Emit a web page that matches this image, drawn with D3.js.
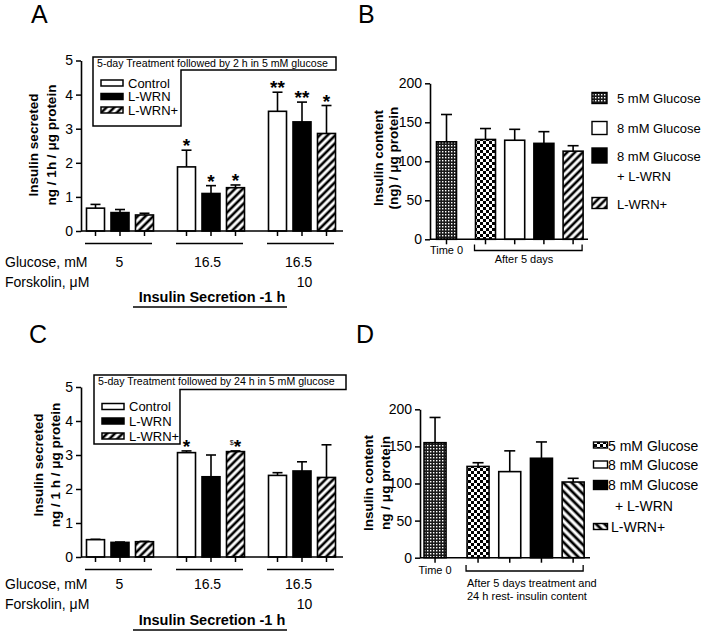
<!DOCTYPE html>
<html><head><meta charset="utf-8">
<script src="https://cdn.jsdelivr.net/npm/d3@7"></script>
<style>
body{margin:0;background:#fff;}
svg{display:block;font-family:"Liberation Sans",Arial,Helvetica,sans-serif;}
</style></head><body>
<svg id="c" width="704" height="637"></svg>
<script>
// ---------- DATA ----------
const groups = ["g1", "g2", "g3"];
const glucoseLabels = ["5", "16.5", "16.5"];
const forskolinLabels = ["", "", "10"];
const series = ["Control", "L-WRN", "L-WRN+"];
const yTicksSec = [0, 1, 2, 3, 4, 5];

// Panel A: 5-day treatment followed by 2 h in 5 mM glucose
const aMeans = [[0.67, 0.54, 0.47], [1.88, 1.10, 1.27], [3.51, 3.20, 2.86]];
const aSem   = [[0.11, 0.09, 0.05], [0.49, 0.23, 0.08], [0.56, 0.58, 0.82]];
const aStars = [["", "", ""], ["*", "*", "*"], ["**", "**", "*"]];

// Panel C: 5-day treatment followed by 24 h in 5 mM glucose
const cMeans = [[0.51, 0.43, 0.45], [3.07, 2.36, 3.10], [2.40, 2.53, 2.34]];
const cSem   = [[0.01, 0.01, 0.01], [0.05, 0.64, 0.02], [0.08, 0.27, 0.96]];
const cStars = [["", "", ""], ["*", "", "$*"], ["", "", ""]];

// Panel B / D: insulin content
const contentCats = ["Time 0", "5 mM Glucose", "8 mM Glucose", "8 mM Glucose + L-WRN", "L-WRN+"];
const yTicksContent = [0, 50, 100, 150, 200];
const bMeans = [125, 128, 127, 123, 113];
const bSem   = [35, 14, 14, 15, 7];
const dMeans = [155, 123, 116, 134, 102];
const dSem   = [34, 5, 28, 22, 5];

// ---------- DRAWING ----------
const svg = d3.select("#c");
const defs = svg.append("defs");
function hatch(id, angle, w, sw) {
  const p = defs.append("pattern").attr("id", id).attr("patternUnits", "userSpaceOnUse")
    .attr("width", w).attr("height", 10).attr("patternTransform", `rotate(${angle})`);
  p.append("rect").attr("width", w).attr("height", 10).attr("fill", "#fff");
  p.append("line").attr("x1", w / 2).attr("x2", w / 2).attr("y1", 0).attr("y2", 10)
    .attr("stroke", "#000").attr("stroke-width", sw);
}
hatch("hatchF", 45, 5.5, 2.6);
hatch("hatchB", -45, 6, 2.8);
(function () {
  const p = defs.append("pattern").attr("id", "checker").attr("patternUnits", "userSpaceOnUse")
    .attr("width", 6).attr("height", 6);
  p.append("rect").attr("width", 6).attr("height", 6).attr("fill", "#fff");
  p.append("rect").attr("width", 3).attr("height", 3).attr("fill", "#000");
  p.append("rect").attr("x", 3).attr("y", 3).attr("width", 3).attr("height", 3).attr("fill", "#000");
  const q = defs.append("pattern").attr("id", "fine").attr("patternUnits", "userSpaceOnUse")
    .attr("width", 3).attr("height", 3);
  q.append("rect").attr("width", 3).attr("height", 3).attr("fill", "#1a1a1a");
  q.append("rect").attr("x", 1).attr("y", 1).attr("width", 1.4).attr("height", 1.4).attr("fill", "#fff");
})();

const seriesFill = { "Control": "#fff", "L-WRN": "#000", "L-WRN+": "url(#hatchF)" };

function panelLetter(t, x, y) {
  svg.append("text").attr("x", x).attr("y", y).attr("font-size", 25).text(t);
}
function yLabel(lines, xs, yc, size) {
  lines.forEach((l, i) => {
    svg.append("text").attr("transform", `translate(${xs[i]},${yc}) rotate(-90)`)
      .attr("text-anchor", "middle").attr("font-size", size).attr("font-weight", "bold").text(l);
  });
}
function styleAxis(g, fs) {
  g.select(".domain").attr("stroke-width", 1.6);
  g.selectAll(".tick line").attr("stroke-width", 1.5);
  g.selectAll(".tick text").attr("font-size", fs).attr("font-family", "Liberation Sans, Arial, sans-serif").attr("fill", "#000");
}

function groupedPanel(o) {
  const gx = d3.scaleBand().domain(groups).range([74.5, 347.5]);
  const sx = d3.scaleBand().domain(series).range([0, gx.bandwidth()]).paddingInner(0.265).paddingOuter(0.49);
  const y = d3.scaleLinear().domain([0, 5]).range(o.yRange);
  const axX = 81;
  const g = svg.append("g");
  // y axis
  const ya = g.append("g").attr("transform", `translate(${axX},0)`)
    .call(d3.axisLeft(y).tickValues(yTicksSec).tickFormat(d3.format("d")).tickSize(5).tickSizeOuter(0).tickPadding(3));
  styleAxis(ya, 14);
  // bars
  groups.forEach((gr, gi) => {
    series.forEach((s, si) => {
      const x0 = gx(gr) + sx(s), w = sx.bandwidth(), cx = x0 + w / 2;
      const m = o.means[gi][si], e = o.sem[gi][si];
      g.append("line").attr("x1", cx).attr("x2", cx).attr("y1", y(m)).attr("y2", y(m + e)).attr("stroke", "#000").attr("stroke-width", 1.6);
      g.append("line").attr("x1", cx - 5).attr("x2", cx + 5).attr("y1", y(m + e)).attr("y2", y(m + e)).attr("stroke", "#000").attr("stroke-width", 1.6);
      g.append("rect").attr("x", x0).attr("y", y(m)).attr("width", w).attr("height", y(0) - y(m))
        .attr("fill", seriesFill[s]).attr("stroke", "#000").attr("stroke-width", 1.6);
      g.append("line").attr("x1", cx).attr("x2", cx).attr("y1", y(0)).attr("y2", y(0) + 5).attr("stroke", "#000").attr("stroke-width", 1.5);
      const st = o.stars[gi][si];
      if (st) {
        const t = g.append("text").attr("x", cx).attr("y", y(m + e) + 2).attr("text-anchor", "middle")
          .attr("font-size", 19).attr("font-weight", "bold");
        if (st.startsWith("$")) {
          t.append("tspan").attr("font-size", 7).attr("font-weight", "normal").attr("dy", -8).text("$");
          t.append("tspan").attr("dy", 8).text(st.slice(1));
        } else t.text(st);
      }
    });
    const gc = gx(gr) + gx.bandwidth() / 2 - 1.5;
    g.append("line").attr("x1", gc - 33.5).attr("x2", gc + 33.5).attr("y1", o.yRange[0] + 12.5).attr("y2", o.yRange[0] + 12.5).attr("stroke", "#000").attr("stroke-width", 1.5);
    g.append("text").attr("x", gc + (gi === 0 ? 1 : -2)).attr("y", o.rowY[0]).attr("text-anchor", "middle").attr("font-size", 14).text(glucoseLabels[gi]);
    if (forskolinLabels[gi]) g.append("text").attr("x", gc + 4).attr("y", o.rowY[1]).attr("text-anchor", "middle").attr("font-size", 14).text(forskolinLabels[gi]);
  });
  // x axis line
  g.append("line").attr("x1", axX).attr("x2", 343).attr("y1", y(0)).attr("y2", y(0)).attr("stroke", "#000").attr("stroke-width", 1.6);
  // row titles
  g.append("text").attr("x", 5).attr("y", o.rowY[0]).attr("font-size", 14).text("Glucose, mM");
  g.append("text").attr("x", 5).attr("y", o.rowY[1]).attr("font-size", 14).text("Forskolin, \u03bcM");
  g.append("text").attr("x", 212).attr("y", o.rowY[2]).attr("text-anchor", "middle").attr("font-size", 14.5).attr("font-weight", "bold").text("Insulin Secretion -1 h");
  g.append("line").attr("x1", 133).attr("x2", 287).attr("y1", o.rowY[2] + 5).attr("y2", o.rowY[2] + 5).attr("stroke", "#000").attr("stroke-width", 1.5);
  // legend box
  const L = o.legend;
  g.append("path").attr("d", `M${L.x0},${L.y0}H${L.x1}V${L.y1}H${L.xm}V${L.y2}H${L.x0}Z`)
    .attr("fill", "#fff").attr("stroke", "#000").attr("stroke-width", 1.5);
  g.append("text").attr("x", L.x0 + 4).attr("y", L.y0 + 10).attr("font-size", 10.6).text(o.title);
  series.forEach((s, i) => {
    const yy = L.rows[i];
    g.append("rect").attr("x", L.x0 + 8).attr("y", yy - 3).attr("width", 22).attr("height", 6)
      .attr("fill", seriesFill[s]).attr("stroke", "#000").attr("stroke-width", 1.5);
    g.append("text").attr("x", L.x0 + 35).attr("y", yy + 4.5).attr("font-size", 13).text(s);
  });
  yLabel(o.ylab, o.ylabX, o.ylabY, 13.5);
}

groupedPanel({
  yRange: [231, 60.5], means: aMeans, sem: aSem, stars: aStars,
  rowY: [267, 287, 302],
  legend: { x0: 93, x1: 336, y0: 57, y1: 70, xm: 181, y2: 126, rows: [83, 96.5, 110] },
  title: "5-day Treatment followed by 2 h in 5 mM glucose",
  ylab: ["Insulin secreted", "ng / 1h /  \u03bcg protein"], ylabX: [38, 56], ylabY: 145
});
groupedPanel({
  yRange: [557, 387], means: cMeans, sem: cSem, stars: cStars,
  rowY: [589, 609, 625],
  legend: { x0: 94, x1: 346, y0: 375, y1: 389.5, xm: 180, y2: 444, rows: [406.5, 421, 436] },
  title: "5-day Treatment followed by 24 h in 5 mM glucose",
  ylab: ["Insulin secreted", "ng / 1 h / \u03bcg protein"], ylabX: [43, 60], ylabY: 465
});

const contentFill = { "Time 0": "url(#fine)", "5 mM Glucose": "url(#checker)", "8 mM Glucose": "#fff", "8 mM Glucose + L-WRN": "#000" };

function contentPanel(o) {
  const x = d3.scalePoint().domain(contentCats).range(o.xRange).padding(0.5);
  const y = d3.scaleLinear().domain([0, 200]).range(o.yRange);
  const g = svg.append("g");
  const fills = Object.assign({}, contentFill, { "L-WRN+": o.hatch });
  const cxOf = c => x(c) - (c === "Time 0" ? o.shift : 0);
  const ya = g.append("g").attr("transform", `translate(${o.axX},0)`)
    .call(d3.axisLeft(y).tickValues(yTicksContent).tickFormat(d3.format("d")).tickSize(5).tickSizeOuter(0).tickPadding(3));
  styleAxis(ya, 14);
  contentCats.forEach((c, i) => {
    const cx = cxOf(c), w = o.barW, m = o.means[i], e = o.sem[i];
    g.append("line").attr("x1", cx).attr("x2", cx).attr("y1", y(m)).attr("y2", y(m + e)).attr("stroke", "#000").attr("stroke-width", 1.6);
    g.append("line").attr("x1", cx - 5.5).attr("x2", cx + 5.5).attr("y1", y(m + e)).attr("y2", y(m + e)).attr("stroke", "#000").attr("stroke-width", 1.6);
    g.append("rect").attr("x", cx - w / 2).attr("y", y(m)).attr("width", w).attr("height", y(0) - y(m))
      .attr("fill", fills[c]).attr("stroke", "#000").attr("stroke-width", 1.6);
    g.append("line").attr("x1", cx).attr("x2", cx).attr("y1", y(0)).attr("y2", y(0) + 5).attr("stroke", "#000").attr("stroke-width", 1.5);
  });
  g.append("line").attr("x1", o.axX).attr("x2", o.xEnd).attr("y1", y(0)).attr("y2", y(0)).attr("stroke", "#000").attr("stroke-width", 1.6);
  // labels under axis
  g.append("text").attr("x", cxOf("Time 0")).attr("y", o.time0Y).attr("text-anchor", "middle").attr("font-size", 11).text("Time 0");
  const bx0 = cxOf(contentCats[1]) - o.barW / 2 - 1, bx1 = cxOf(contentCats[4]) + o.barW / 2 - 1;
  g.append("path").attr("d", `M${bx0},${o.brY - 6}V${o.brY}H${bx1}V${o.brY - 6}`).attr("fill", "none").attr("stroke", "#000").attr("stroke-width", 1.3);
  o.afterLines.forEach((t, i) => {
    g.append("text").attr("x", o.afterX).attr("y", o.afterY + i * 13).attr("text-anchor", o.afterAnchor).attr("font-size", 11).text(t);
  });
  // legend
  o.legend.forEach(L => {
    if (L.fill !== null) g.append("rect").attr("x", o.lgX).attr("y", L.sy - L.h / 2).attr("width", o.lgW).attr("height", L.h)
      .attr("fill", L.fill).attr("stroke", "#000").attr("stroke-width", 1.4);
    g.append("text").attr("x", L.tx).attr("y", L.ty + 5).attr("font-size", o.lgFont).text(L.text);
  });
  yLabel(o.ylab, o.ylabX, o.ylabY, 13.5);
}

contentPanel({
  xRange: [441.7, 587.7], yRange: [239.3, 83.3], axX: 430, xEnd: 588, shift: 9.8, barW: 20,
  means: bMeans, sem: bSem, hatch: "url(#hatchF)",
  time0Y: 254, brY: 250.5, afterLines: ["After 5 days"], afterX: 524, afterY: 263, afterAnchor: "middle",
  lgX: 592, lgW: 15, lgFont: 13,
  legend: [
    { fill: "url(#fine)", h: 11, sy: 98, text: "5 mM Glucose", tx: 617, ty: 98 },
    { fill: "#fff", h: 13, sy: 128, text: "8 mM Glucose", tx: 617, ty: 128 },
    { fill: "#000", h: 15, sy: 155.5, text: "8 mM Glucose", tx: 617, ty: 155.5 },
    { fill: null, h: 0, sy: 0, text: "+ L-WRN", tx: 617, ty: 175.5 },
    { fill: "url(#hatchF)", h: 11, sy: 203, text: "L-WRN+", tx: 617, ty: 203.5 }
  ],
  ylab: ["Insulin content", "(ng) / \u03bcg protein"], ylabX: [382.5, 398], ylabY: 158
});
contentPanel({
  xRange: [430.5, 589], yRange: [557.7, 409.3], axX: 420, xEnd: 590, shift: 11.3, barW: 22,
  means: dMeans, sem: dSem, hatch: "url(#hatchB)",
  time0Y: 574, brY: 571, afterLines: ["After 5 days treatment and", "24 h rest- insulin content"], afterX: 467, afterY: 587, afterAnchor: "start",
  lgX: 593.5, lgW: 14, lgFont: 14,
  legend: [
    { fill: "url(#checker)", h: 6, sy: 445, text: "5 mM Glucose", tx: 608, ty: 445.5 },
    { fill: "#fff", h: 7, sy: 464.5, text: "8 mM Glucose", tx: 608, ty: 464.5 },
    { fill: "#000", h: 9, sy: 485, text: "8 mM Glucose", tx: 608, ty: 485 },
    { fill: null, h: 0, sy: 0, text: "+ L-WRN", tx: 615, ty: 506 },
    { fill: "url(#hatchB)", h: 6, sy: 526.5, text: "L-WRN+", tx: 611, ty: 526.5 }
  ],
  ylab: ["Insulin content", "ng / \u03bcg protein"], ylabX: [373, 390], ylabY: 483
});

panelLetter("A", 31, 23);
panelLetter("B", 358, 23);
panelLetter("C", 29, 343);
panelLetter("D", 356, 343);
</script>
</body></html>
